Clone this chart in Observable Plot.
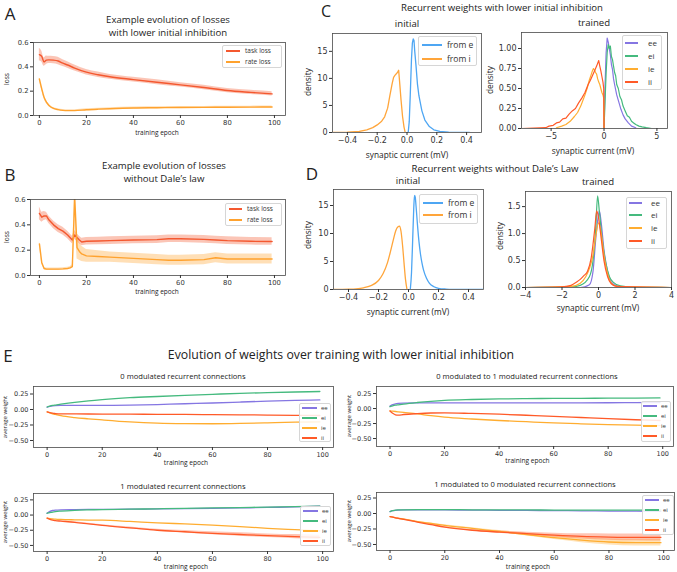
<!DOCTYPE html>
<html><head><meta charset="utf-8">
<script src="https://cdn.jsdelivr.net/npm/d3@7"></script>
<script src="https://cdn.jsdelivr.net/npm/@observablehq/plot@0.6"></script>
<style>
body{margin:0;background:#fff;}
#fig{position:relative;width:677px;height:572px;overflow:hidden;font-family:"Open Sans",sans-serif;color:#222;background:#fff;}
.t{position:absolute;white-space:nowrap;transform:translate(-50%,-50%);line-height:1;}
.yl{position:absolute;white-space:nowrap;transform:translate(-50%,-50%) rotate(-90deg);line-height:1;}
.leg{position:absolute;border:1px solid #d6d6d6;border-radius:2px;background:rgba(255,255,255,0.85);box-sizing:border-box;}
.sw{position:absolute;height:2px;}
.lt{position:absolute;white-space:nowrap;transform:translateY(-50%);line-height:1;color:#333;}
</style></head><body><div id="fig"></div>
<script>
// ---------- Panel A ----------
const epochsA = [0,1,2,3,4,6,8,10,12,15,20,25,30,40,50,60,70,80,90,99];
const aTask    = [0.50,0.485,0.44,0.455,0.457,0.455,0.448,0.43,0.415,0.39,0.356,0.335,0.318,0.295,0.273,0.252,0.23,0.205,0.19,0.178];
const aTaskErr = [0.05,0.045,0.035,0.035,0.03,0.03,0.03,0.028,0.027,0.025,0.023,0.022,0.02,0.02,0.02,0.018,0.018,0.017,0.017,0.017];
const aRate    = [0.30,0.22,0.15,0.11,0.085,0.058,0.048,0.042,0.04,0.04,0.047,0.052,0.056,0.062,0.064,0.066,0.067,0.068,0.069,0.07];
const aRateErr = [0.01,0.012,0.012,0.012,0.01,0.008,0.008,0.008,0.008,0.008,0.008,0.008,0.008,0.008,0.008,0.008,0.008,0.008,0.008,0.008];
// ---------- Panel B ----------
const epochsB = [0,1,2,3,4,5,6,8,10,12,13,14,15,16,17,18,20,25,30,40,50,55,60,70,75,80,90,99];
const bTask    = [0.49,0.46,0.47,0.47,0.44,0.42,0.40,0.37,0.35,0.32,0.30,0.28,0.32,0.30,0.28,0.265,0.27,0.272,0.275,0.28,0.283,0.29,0.29,0.285,0.28,0.275,0.27,0.268];
const bTaskErr = [0.05,0.04,0.035,0.03,0.03,0.03,0.03,0.03,0.03,0.03,0.03,0.03,0.035,0.03,0.03,0.03,0.03,0.03,0.03,0.03,0.03,0.03,0.03,0.03,0.03,0.03,0.03,0.03];
const bRate    = [0.25,0.10,0.055,0.05,0.05,0.05,0.05,0.05,0.052,0.055,0.06,0.07,0.62,0.22,0.19,0.17,0.155,0.15,0.145,0.135,0.125,0.12,0.12,0.125,0.14,0.13,0.13,0.13];
const bRateErr = [0.02,0.01,0.01,0.01,0.01,0.01,0.01,0.01,0.01,0.01,0.01,0.015,0.12,0.09,0.07,0.06,0.05,0.045,0.04,0.04,0.04,0.04,0.04,0.04,0.04,0.04,0.04,0.04];
// ---------- Panel C ----------
const cFromEX = [0.008,0.015,0.022,0.03,0.036,0.042,0.047,0.052,0.06,0.07,0.08,0.1,0.12,0.15,0.18,0.22,0.28,0.35,0.42];
const cFromEY = [0,2,7,13.5,16.5,17.3,17,15,12.5,9,6.8,4,2.3,1.1,0.5,0.2,0.05,0.01,0];
const cFromIX = [-0.5,-0.4,-0.32,-0.27,-0.23,-0.2,-0.17,-0.15,-0.13,-0.115,-0.1,-0.09,-0.08,-0.07,-0.062,-0.056,-0.05,-0.04,-0.03,-0.02,-0.012];
const cFromIY = [0,0.05,0.2,0.5,0.9,1.4,2.1,2.9,4.5,6.8,9,10.2,10.6,10.9,11.2,11.5,9.5,6,3,1,0];
const cEeX = [0,0.1,0.2,0.3,0.4,0.5,0.6,0.7,0.8,0.9,1.0,1.2,1.4,1.6,1.8,2.0,2.3,2.6,3.0];
const cEeY = [0,0.55,0.95,1.13,1.08,1.0,0.92,0.8,0.74,0.62,0.55,0.42,0.33,0.24,0.17,0.12,0.07,0.03,0.01];
const cEiX = [0,0.1,0.2,0.3,0.4,0.5,0.6,0.7,0.8,0.9,1.0,1.1,1.2,1.35,1.5,1.65,1.8,2.0,2.2,2.4,2.6,2.8,3.0,3.3,3.6,4.0,4.5,6.0];
const cEiY = [0,0.35,0.7,0.95,1.05,1.0,1.03,0.9,0.86,0.78,0.7,0.66,0.55,0.5,0.4,0.36,0.28,0.22,0.16,0.14,0.09,0.07,0.05,0.03,0.02,0.01,0,0];
const cIeX = [-4.5,-4,-3.6,-3.2,-2.8,-2.5,-2.2,-2.0,-1.8,-1.6,-1.4,-1.2,-1.1,-1.0,-0.9,-0.8,-0.7,-0.6,-0.5,-0.4,-0.3,-0.2,-0.1,-0.03,0];
const cIeY = [0.01,0.03,0.05,0.09,0.15,0.2,0.28,0.35,0.42,0.5,0.6,0.68,0.72,0.75,0.73,0.7,0.68,0.62,0.58,0.55,0.5,0.45,0.42,0.38,0];
const cIiX = [-7.8,-5.5,-5.2,-4.8,-4.5,-4.2,-3.9,-3.6,-3.3,-3.0,-2.7,-2.4,-2.1,-1.8,-1.5,-1.3,-1.1,-0.9,-0.7,-0.5,-0.4,-0.3,-0.2,-0.1,-0.03,0];
const cIiY = [0,0.01,0.03,0.04,0.07,0.08,0.12,0.13,0.18,0.22,0.25,0.32,0.38,0.45,0.55,0.6,0.66,0.72,0.78,0.85,0.78,0.72,0.65,0.58,0.5,0];
// ---------- Panel D ----------
const dFromEX = [0.012,0.02,0.028,0.035,0.04,0.045,0.05,0.06,0.07,0.08,0.09,0.1,0.12,0.14,0.17,0.2,0.25,0.3,0.4,0.5];
const dFromEY = [0,3,9,14.5,16.8,16.5,15,11.5,8.5,6.3,4.7,3.5,2,1.1,0.5,0.22,0.07,0.02,0,0];
const dFromIX = [-0.5,-0.4,-0.35,-0.3,-0.25,-0.2,-0.17,-0.14,-0.12,-0.1,-0.085,-0.07,-0.06,-0.05,-0.04,-0.03,-0.02,-0.01];
const dFromIY = [0,0.05,0.12,0.3,0.7,1.6,2.8,4.8,6.8,9,10.5,11.2,11.3,10.4,8,4.8,1.8,0];
const dEeX = [-4,-1,-0.5,-0.3,-0.15,0,0.05,0.15,0.3,0.5,0.7,1,1.5,4];
const dEeY = [0,0,0.05,0.3,0.9,1.35,1.42,1.2,0.7,0.3,0.1,0.03,0,0];
const dEiX = [-4,-1.5,-1,-0.5,-0.3,-0.15,-0.05,0.05,0.2,0.4,0.6,0.8,1.2,2,4];
const dEiY = [0,0.01,0.04,0.2,0.5,1.1,1.7,1.4,0.9,0.45,0.2,0.1,0.03,0.005,0];
const dIeX = [-4,-1.5,-1,-0.7,-0.5,-0.3,-0.15,0,0.15,0.3,0.5,0.7,1,4];
const dIeY = [0,0.02,0.08,0.2,0.35,0.6,0.95,1.2,1.0,0.6,0.25,0.08,0.02,0];
const dIiX = [-4,-2,-1.5,-1.2,-1,-0.8,-0.6,-0.4,-0.2,-0.1,0,0.15,0.3,0.5,0.7,1,4];
const dIiY = [0,0.01,0.04,0.1,0.15,0.22,0.3,0.55,1.1,1.42,1.3,0.9,0.5,0.2,0.07,0.02,0];
// ---------- Panel E ----------
const epochsE = [0,1,2,3,5,10,15,20,30,40,50,60,70,80,90,99];
const e1ee = [0.04,0.05,0.058,0.062,0.065,0.065,0.065,0.066,0.07,0.08,0.093,0.105,0.12,0.135,0.147,0.155];
const e1ei = [0.04,0.055,0.065,0.072,0.085,0.115,0.14,0.16,0.19,0.21,0.228,0.245,0.26,0.272,0.282,0.29];
const e1ie = [-0.04,-0.055,-0.07,-0.08,-0.1,-0.13,-0.15,-0.168,-0.2,-0.22,-0.228,-0.23,-0.225,-0.215,-0.205,-0.2];
const e1ii = [-0.04,-0.05,-0.06,-0.065,-0.07,-0.072,-0.073,-0.074,-0.076,-0.078,-0.08,-0.083,-0.086,-0.09,-0.094,-0.097];
const e2ee = [0.04,0.065,0.078,0.085,0.09,0.093,0.094,0.095,0.095,0.095,0.095,0.095,0.095,0.096,0.098,0.1];
const e2ei = [0.03,0.045,0.055,0.062,0.075,0.1,0.12,0.135,0.15,0.16,0.165,0.168,0.17,0.172,0.174,0.176];
const e2ie = [-0.04,-0.045,-0.05,-0.055,-0.065,-0.09,-0.12,-0.145,-0.175,-0.2,-0.22,-0.24,-0.255,-0.268,-0.278,-0.285];
const e2ii = [-0.04,-0.08,-0.105,-0.11,-0.1,-0.085,-0.075,-0.072,-0.082,-0.095,-0.112,-0.13,-0.15,-0.17,-0.187,-0.2];
const e3ee = [0.03,0.06,0.075,0.082,0.087,0.09,0.092,0.093,0.097,0.101,0.105,0.11,0.117,0.125,0.135,0.145];
const e3ei = [0.03,0.04,0.05,0.057,0.065,0.078,0.085,0.09,0.097,0.103,0.11,0.117,0.124,0.132,0.14,0.148];
const e3ie = [-0.05,-0.058,-0.063,-0.067,-0.072,-0.078,-0.082,-0.085,-0.105,-0.128,-0.145,-0.165,-0.19,-0.218,-0.24,-0.26];
const e3ii = [-0.05,-0.07,-0.085,-0.092,-0.1,-0.12,-0.145,-0.17,-0.21,-0.25,-0.275,-0.3,-0.32,-0.34,-0.355,-0.367];
const e3iiErr = [0.003,0.004,0.005,0.005,0.006,0.008,0.01,0.012,0.015,0.018,0.02,0.024,0.028,0.03,0.033,0.035];
const e4ee = [0.03,0.045,0.052,0.055,0.057,0.058,0.058,0.057,0.055,0.052,0.05,0.047,0.043,0.04,0.037,0.035];
const e4ei = [0.03,0.045,0.055,0.058,0.06,0.062,0.062,0.062,0.06,0.058,0.057,0.056,0.055,0.055,0.055,0.055];
const e4ie = [-0.05,-0.06,-0.07,-0.078,-0.09,-0.13,-0.16,-0.19,-0.24,-0.29,-0.34,-0.39,-0.43,-0.46,-0.47,-0.47];
const e4ieErr = [0.003,0.003,0.004,0.004,0.005,0.006,0.008,0.01,0.012,0.016,0.022,0.03,0.04,0.05,0.055,0.055];
const e4ii = [-0.05,-0.06,-0.07,-0.078,-0.095,-0.14,-0.18,-0.22,-0.27,-0.3,-0.325,-0.35,-0.37,-0.38,-0.385,-0.385];
const e4iiErr = [0.003,0.003,0.004,0.004,0.005,0.006,0.008,0.01,0.013,0.017,0.024,0.032,0.042,0.05,0.056,0.06];
// ---------- ticks & labels ----------
const epochTicks = [0,20,40,60,80,100];
const lossTicks = [0,0.2,0.4,0.6];
const initXTicks = [-0.4,-0.2,0,0.2,0.4];
const initYTicks = [0,5,10,15];
const cTrainedXTicks = [-5,0,5];
const cTrainedYTicks = [0,0.25,0.5,0.75,1.0];
const dTrainedXTicks = [-4,-2,0,2,4];
const dTrainedYTicks = [0,0.5,1.0,1.5];
const weightTicks = [0.25,0,-0.25,-0.5];
const lossNames = ["task loss","rate loss"];
const initNames = ["from e","from i"];
const typeNames = ["ee","ei","ie","ii"];

const COL = {task:"#f4582f", rate:"#ffa22e", fe:"#4ea6f3", fi:"#ffa53a",
             ee:"#8576e2", ei:"#45ba7e", ie:"#ffad30", ii:"#ff5a28"};

const fig = document.getElementById("fig");
const f1 = d3.format(".1f"), f2 = d3.format(".2f"), fd = d3.format("d");

function rowsOf(xs, ys, err){ return xs.map((x,i)=>({x, y:ys[i], lo: err? ys[i]-err[i]:0, hi: err? ys[i]+err[i]:0})); }

function panel(c){
  const ml=40, mr=10, mt=10, mb=24;
  const w=c.r-c.l, h=c.b-c.t;
  const marks=[];
  for(const s of c.series){
    if(s.e) marks.push(Plot.areaY(rowsOf(s.x,s.y,s.e),{x:"x",y1:"lo",y2:"hi",fill:s.color,fillOpacity:s.op ?? 0.35,curve:c.curve||"linear",clip:true}));
  }
  for(const s of c.series){
    marks.push(Plot.lineY(rowsOf(s.x,s.y),{x:"x",y:"y",stroke:s.color,strokeWidth:c.sw||1.3,curve:c.curve||"linear",clip:true}));
  }
  marks.push(Plot.frame({stroke:"#4a4a4a",strokeWidth:0.8}));
  marks.push(Plot.axisX({ticks:c.xt,tickFormat:c.xf,tickSize:3,tickPadding:2,label:null,fontSize:c.fs}));
  marks.push(Plot.axisY({ticks:c.yt,tickFormat:c.yf,tickSize:3,tickPadding:2,label:null,fontSize:c.fs}));
  const svg = Plot.plot({
    width:w+ml+mr, height:h+mt+mb, marginLeft:ml, marginRight:mr, marginTop:mt, marginBottom:mb,
    x:{domain:c.xd,label:null}, y:{domain:c.yd,label:null},
    style:{fontFamily:"DejaVu Sans",fontSize:c.fs+"px",background:"transparent",color:"#333",overflow:"visible"},
    marks
  });
  svg.style.position="absolute";
  svg.style.left=(c.l-ml)+"px";
  svg.style.top=(c.t-mt)+"px";
  fig.appendChild(svg);
}

function txt(s,x,y,size,extra){
  const d=document.createElement("div"); d.className="t"; d.textContent=s;
  d.style.left=x+"px"; d.style.top=y+"px"; d.style.fontSize=size+"px";
  if(extra) Object.assign(d.style,extra);
  fig.appendChild(d);
}
function ylab(s,x,y,size){
  const d=document.createElement("div"); d.className="yl"; d.textContent=s;
  d.style.left=x+"px"; d.style.top=y+"px"; d.style.fontSize=size+"px";
  fig.appendChild(d);
}
function legend(names,colors,box,rowsY,sw,tx,fs){
  const b=document.createElement("div"); b.className="leg";
  Object.assign(b.style,{left:box[0]+"px",top:box[1]+"px",width:(box[2]-box[0])+"px",height:(box[3]-box[1])+"px"});
  fig.appendChild(b);
  names.forEach((n,i)=>{
    const l=document.createElement("div"); l.className="sw";
    Object.assign(l.style,{left:sw[0]+"px",width:(sw[1]-sw[0])+"px",top:(rowsY[i]-1)+"px",background:colors[i]});
    fig.appendChild(l);
    const t=document.createElement("div"); t.className="lt"; t.textContent=n;
    Object.assign(t.style,{left:tx+"px",top:rowsY[i]+"px",fontSize:fs+"px"});
    fig.appendChild(t);
  });
}

// ---- A ----
panel({l:33,r:285,t:42,b:115,xd:[-2.5,104.7],yd:[0,0.6],xt:epochTicks,yt:lossTicks,xf:fd,yf:f1,fs:6.8,sw:1.4,curve:"monotone-x",
  series:[{x:epochsA,y:aTask,e:aTaskErr,color:COL.task},{x:epochsA,y:aRate,e:aRateErr,color:COL.rate}]});
legend(lossNames,[COL.task,COL.rate],[222,45,282,68],[51,61.5],[226,240],245,6.5);
txt("A",10,13,17);
txt("Example evolution of losses",168,20,9.6);
txt("with lower initial inhibition",168,33,9.6);
txt("training epoch",157,133,6.5);
ylab("loss",7,79,6.5);

// ---- B ----
panel({l:30,r:285,t:199,b:275,xd:[-3.8,104.7],yd:[0,0.6],xt:epochTicks,yt:lossTicks,xf:fd,yf:f1,fs:6.8,sw:1.4,
  series:[{x:epochsB,y:bTask,e:bTaskErr,color:COL.task},{x:epochsB,y:bRate,e:bRateErr,color:COL.rate}]});
legend(lossNames,[COL.task,COL.rate],[225,203,282,226],[208.5,219.5],[229,242],247,6.5);
txt("B",10,174,17);
txt("Example evolution of losses",164,166,9.6);
txt("without Dale’s law",164,179,9.6);
txt("training epoch",157,292,6.5);
ylab("loss",7,237,6.5);

// ---- C ----
txt("C",326,11,16);
txt("Recurrent weights with lower initial inhibition",502,8,9.6);
txt("initial",407,24,9.6);
txt("trained",594,23,9.6);
panel({l:332,r:481,t:33,b:132,xd:[-0.5,0.5],yd:[0,18.3],xt:initXTicks,yt:initYTicks,xf:f1,yf:fd,fs:8,sw:1.3,
  series:[{x:cFromEX,y:cFromEY,color:COL.fe},{x:cFromIX,y:cFromIY,color:COL.fi}]});
legend(initNames,[COL.fe,COL.fi],[418,36,477,66],[45,59],[422,442],447,8.5);
txt("synaptic current (mV)",407,155,8.3);
ylab("density",308,82,8.3);
panel({l:521,r:667,t:32,b:128,xd:[-7.8,6.0],yd:[0,1.2],xt:cTrainedXTicks,yt:cTrainedYTicks,xf:fd,yf:f2,fs:8,sw:1.2,
  series:[{x:cEeX,y:cEeY,color:COL.ee},{x:cEiX,y:cEiY,color:COL.ei},{x:cIeX,y:cIeY,color:COL.ie},{x:cIiX,y:cIiY,color:COL.ii}]});
legend(typeNames,[COL.ee,COL.ei,COL.ie,COL.ii],[622,35,662,90],[43,56,69,82],[625,638],648,8);
txt("synaptic current (mV)",593,151,8.3);
ylab("density",490,80,8.3);

// ---- D ----
txt("D",312,173,17);
txt("Recurrent weights without Dale’s Law",495,169,9.6);
txt("initial",408,181,9.6);
txt("trained",598,182,9.6);
panel({l:333,r:483,t:189,b:289,xd:[-0.5,0.5],yd:[0,17.86],xt:initXTicks,yt:initYTicks,xf:f1,yf:fd,fs:8,sw:1.3,curve:"monotone-x",
  series:[{x:dFromEX,y:dFromEY,color:COL.fe},{x:dFromIX,y:dFromIY,color:COL.fi}]});
legend(initNames,[COL.fe,COL.fi],[419,194,478,224],[203,215],[423,443],448,8.5);
txt("synaptic current (mV)",408,312,8.3);
ylab("density",308,235,8.3);
panel({l:525,r:671,t:191,b:287,xd:[-4,4],yd:[0,1.78],xt:dTrainedXTicks,yt:dTrainedYTicks,xf:fd,yf:f1,fs:8,sw:1.2,curve:"monotone-x",
  series:[{x:dEeX,y:dEeY,color:COL.ee},{x:dEiX,y:dEiY,color:COL.ei},{x:dIeX,y:dIeY,color:COL.ie},{x:dIiX,y:dIiY,color:COL.ii}]});
legend(typeNames,[COL.ee,COL.ei,COL.ie,COL.ii],[626,197,667,249],[203,215,228,241],[629,642],651,8);
txt("synaptic current (mV)",598,308,8.3);
ylab("density",500,236,8.3);

// ---- E ----
txt("E",8,355,17);
txt("Evolution of weights over training with lower initial inhibition",341,355,12.3);
const typeCols=[COL.ee,COL.ei,COL.ie,COL.ii];
function ePanel(box,yd,vals,errs,title,tpos,legBox,legRows,sw,tx,xlabY,ylabX){
  panel({l:box[0],r:box[1],t:box[2],b:box[3],xd:[-4.95,103.95],yd,xt:epochTicks,yt:weightTicks,xf:fd,yf:f2,fs:6.5,sw:1.3,curve:"monotone-x",
    series:vals.map((v,i)=>({x:epochsE,y:v,e:errs[i],color:typeCols[i],op:0.35}))});
  legend(typeNames,typeCols,legBox,legRows,sw,tx,6);
  txt(title,tpos[0],tpos[1],7.6);
  txt("training epoch",(box[0]+box[1])/2+3,xlabY,6.6);
  ylab("average weight",ylabX,(box[2]+box[3])/2,6);
}
ePanel([33,333,386,447],[-0.613,0.371],[e1ee,e1ei,e1ie,e1ii],[null,null,null,null],
  "0 modulated recurrent connections",[183,377],[299,403,331,442],[407.5,417.5,427.5,437.5],[302,317],321,463,5);
ePanel([376,673,386,446],[-0.633,0.367],[e2ee,e2ei,e2ie,e2ii],[null,null,null,null],
  "0 modulated to 1 modulated recurrent connections",[527,377],[641,401,671,442],[405.5,415.5,425.5,436],[643,657],661,461,349);
ePanel([33,333,493,551],[-0.6,0.355],[e3ee,e3ei,e3ie,e3ii],[null,null,null,e3iiErr],
  "1 modulated recurrent connections",[183,487],[300,506,331,546],[511,521,531,541],[303,318],322,567,5);
ePanel([376,674,492,550],[-0.597,0.339],[e4ee,e4ei,e4ie,e4ii],[null,null,e4ieErr,e4iiErr],
  "1 modulated to 0 modulated recurrent connections",[525,485],[642,495,674,535],[500,510,520,530],[645,659],663,567,349);
</script></body></html>
